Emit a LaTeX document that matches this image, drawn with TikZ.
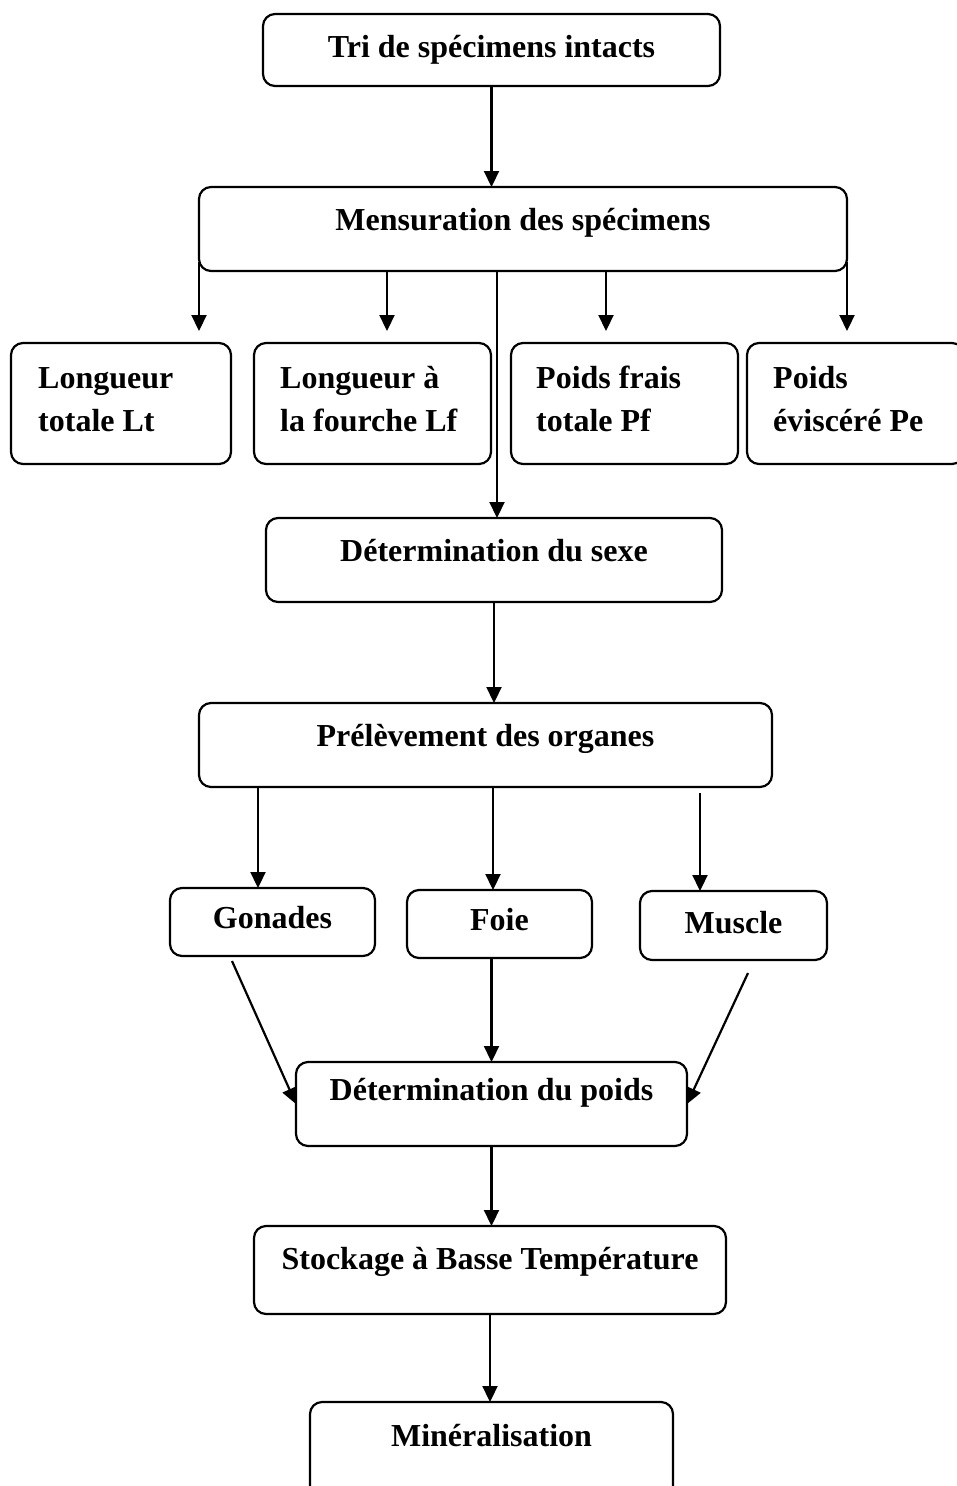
\documentclass[tikz,border=0pt]{standalone}
\usepackage{fontspec}
\setmainfont{Liberation Serif}
\usetikzlibrary{arrows.meta,calc,fit}
\begin{document}
\begin{tikzpicture}[x=1pt,y=-1pt,
  box/.style={draw, line width=2.2pt, rounded corners=12pt, inner sep=0pt, outer sep=0pt},
  lbl/.style={font=\fontsize{32}{38}\selectfont\bfseries, inner sep=0pt, anchor=base},
  lblw/.style={lbl, anchor=base west},
  arr/.style={line width=2.2pt, -{Triangle[length=16pt,width=15pt]}}]
\useasboundingbox (0,0) rectangle (957,1486);
\clip (0,0) rectangle (957,1486);
% boxes
\node[box, fit={(263,14) (720,86)}] (tri) {};
\node[box, fit={(199,187) (847,271)}] (mens) {};
\node[box, fit={(11,343) (231,464)}] (lt) {};
\node[box, fit={(254,343) (491,464)}] (lf) {};
\node[box, fit={(511,343) (738,464)}] (pf) {};
\node[box, fit={(747,343) (964,464)}] (pe) {};
\node[box, fit={(266,518) (722,602)}] (sexe) {};
\node[box, fit={(199,703) (772,787)}] (prel) {};
\node[box, fit={(170,888) (375,956)}] (gon) {};
\node[box, fit={(407,890) (592,958)}] (foie) {};
\node[box, fit={(640,891) (827,960)}] (musc) {};
\node[box, fit={(296,1062) (687,1146)}] (poids) {};
\node[box, fit={(254,1226) (726,1314)}] (stock) {};
\node[box, fit={(310,1402) (673,1500)}] (miner) {};
% texts
\node[lbl] (tri-t) at (491.5,57) {Tri de spécimens intacts};
\node[lbl] (mens-t) at (523,230) {Mensuration des spécimens};
\node[lblw] (lt-t1) at (38,388) {Longueur};
\node[lblw] (lt-t2) at (38,431) {totale Lt};
\node[lblw] (lf-t1) at (280,388) {Longueur à};
\node[lblw] (lf-t2) at (280,431) {la fourche Lf};
\node[lblw] (pf-t1) at (536,388) {Poids frais};
\node[lblw] (pf-t2) at (536,431) {totale Pf};
\node[lblw] (pe-t1) at (773,388) {Poids};
\node[lblw] (pe-t2) at (773,431) {éviscéré Pe};
\node[lbl] (sexe-t) at (494,561) {Détermination du sexe};
\node[lbl] (prel-t) at (485.5,746) {Prélèvement des organes};
\node[lbl] (gon-t) at (272.5,928) {Gonades};
\node[lbl] (foie-t) at (499.5,930) {Foie};
\node[lbl] (musc-t) at (733.5,933) {Muscle};
\node[lbl] (poids-t) at (491.5,1100) {Détermination du poids};
\node[lbl] (stock-t) at (490,1269) {Stockage à Basse Température};
\node[lbl] (miner-t) at (491.5,1446) {Minéralisation};
% helper coordinates
\coordinate (tipLt) at (199,331);
\coordinate (tipLf) at (387,331);
\coordinate (tipPf) at (606,331);
\coordinate (tipPe) at (847,331);
\coordinate (cS) at (497,0);
\coordinate (cG) at (258,0);
\coordinate (cF) at (493,0);
\coordinate (cM) at (700,0);
\coordinate (gS) at (232,961);
\coordinate (mS) at (748,973);
% connectors
\draw[arr] (tri.south) -- (mens.north -| tri.south);
\draw[arr] ([yshift=9pt]mens.south west) -- (tipLt);
\draw[arr] (mens.south -| tipLf) -- (tipLf);
\draw[arr] (mens.south -| tipPf) -- (tipPf);
\draw[arr] ([yshift=9pt]mens.south east) -- (tipPe);
\draw[arr] (mens.south -| cS) -- (sexe.north -| cS);
\draw[arr] (sexe.south) -- (prel.north -| sexe.south);
\draw[arr] (prel.south -| cG) -- (gon.north -| cG);
\draw[arr] (prel.south -| cF) -- (foie.north -| cF);
\draw[arr] ($(prel.south -| cM)+(0,6)$) -- (musc.north -| cM);
\draw[arr] (gS) -- (poids.west);
\draw[arr] (mS) -- (poids.east);
\draw[arr] (foie.south -| poids.north) -- (poids.north);
\draw[arr] (poids.south) -- (stock.north -| poids.south);
\draw[arr] (stock.south) -- (miner.north -| stock.south);
\end{tikzpicture}
\end{document}
